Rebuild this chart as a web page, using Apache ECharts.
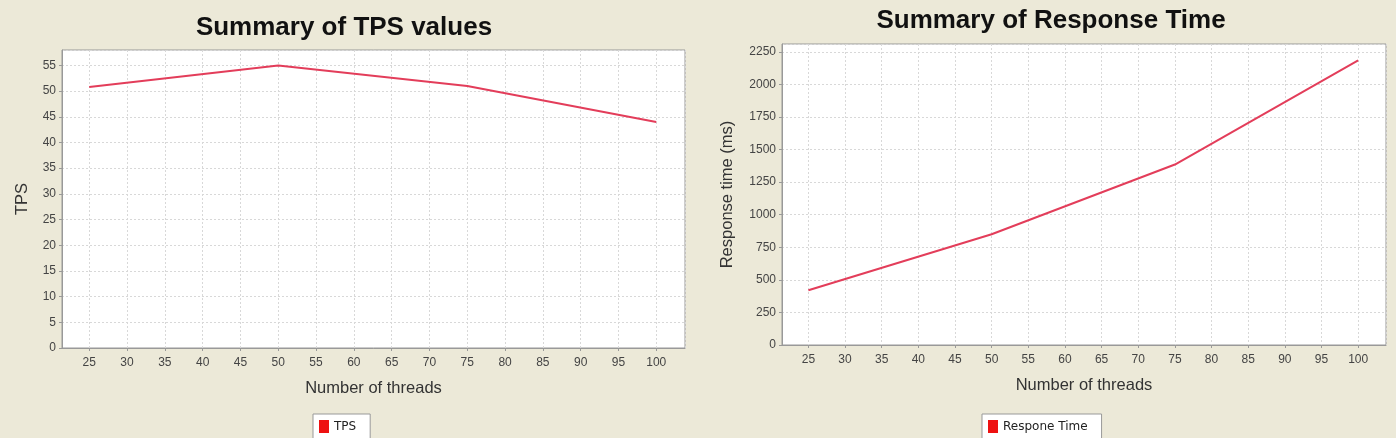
<!DOCTYPE html>
<html>
<head>
<meta charset="utf-8">
<script src="https://cdn.jsdelivr.net/npm/echarts@6/dist/echarts.min.js"></script>
<style>
  html, body { margin: 0; padding: 0; background: #ece9d8; }
  #chart { width: 1396px; height: 438px; }
</style>
</head>
<body>
<div id="chart"></div>
<script>
// thread counts for both runs
const threads = [25, 50, 75, 100]
// TPS per thread count
const tpsValues = [50.8, 55.0, 51.0, 44.0]
// average response time (ms) per thread count
const respValues = [420, 850, 1385, 2185]

const chart = echarts.init(document.getElementById("chart"))

const labelFont = { color: "#444", fontSize: 12, fontFamily: "Liberation Sans" }
const nameFont = { color: "#333", fontSize: 16.5, fontFamily: "Liberation Sans" }
const dashed = { show: true, lineStyle: { color: "#d8d8d8", type: [2, 2], width: 1 } }
const plain = (v) => String(v)

const xAxisFor = (gridIndex) => ({
  type: "value",
  gridIndex,
  min: 21.4,
  max: 103.8,
  minInterval: 5,
  maxInterval: 5,
  name: "Number of threads",
  nameLocation: "middle",
  nameGap: 32,
  nameTextStyle: nameFont,
  axisLine: { lineStyle: { color: "#999" } },
  axisTick: { show: true, length: 3, lineStyle: { color: "#999" } },
  axisLabel: { ...labelFont, margin: 9, showMinLabel: false, showMaxLabel: false, formatter: plain },
  splitLine: dashed
})

const lineSeries = (name, values, idx) => ({
  name,
  type: "line",
  xAxisIndex: idx,
  yAxisIndex: idx,
  data: threads.map((t, i) => [t, values[i]]),
  symbol: "none",
  lineStyle: { color: "#e33d5a", width: 2 },
  itemStyle: { color: "#ee1111" }
})

const legendFor = (name, left) => ({
  data: [name],
  left,
  top: 414,
  orient: "horizontal",
  backgroundColor: "#fff",
  borderColor: "#999",
  borderWidth: 1,
  borderRadius: 0,
  padding: [6, 14, 8, 6],
  icon: "rect",
  itemWidth: 10,
  itemHeight: 13,
  itemGap: 6,
  selectedMode: false,
  textStyle: { color: "#222", fontSize: 12, fontFamily: "DejaVu Sans" }
})

chart.setOption({
  backgroundColor: "#ece9d8",
  animation: false,
  title: [
    {
      text: "Summary of TPS values",
      left: 339,
      top: 10,
      textAlign: "center",
      textStyle: { fontSize: 26, fontWeight: "bold", color: "#111", fontFamily: "Liberation Sans" }
    },
    {
      text: "Summary of Response Time",
      left: 1046,
      top: 3,
      textAlign: "center",
      textStyle: { fontSize: 26, fontWeight: "bold", color: "#111", fontFamily: "Liberation Sans" }
    }
  ],
  legend: [legendFor("TPS", 313), legendFor("Respone Time", 982)],
  grid: [
    { left: 62, top: 50, width: 623, height: 298, show: true, backgroundColor: "#fff", borderColor: "#999", borderWidth: 1 },
    { left: 782, top: 44, width: 604, height: 301, show: true, backgroundColor: "#fff", borderColor: "#999", borderWidth: 1 }
  ],
  xAxis: [xAxisFor(0), xAxisFor(1)],
  yAxis: [
    {
      type: "value",
      gridIndex: 0,
      min: 0,
      max: 58,
      interval: 5,
      name: "TPS",
      nameLocation: "middle",
      nameGap: 31,
      nameTextStyle: nameFont,
      axisLine: { show: true, lineStyle: { color: "#999" } },
      axisTick: { show: true, length: 3, lineStyle: { color: "#999" } },
      axisLabel: { ...labelFont, margin: 6, showMaxLabel: false, formatter: plain },
      splitLine: dashed
    },
    {
      type: "value",
      gridIndex: 1,
      min: 0,
      max: 2310,
      interval: 250,
      name: "Response time (ms)",
      nameLocation: "middle",
      nameGap: 46,
      nameTextStyle: nameFont,
      axisLine: { show: true, lineStyle: { color: "#999" } },
      axisTick: { show: true, length: 3, lineStyle: { color: "#999" } },
      axisLabel: { ...labelFont, margin: 6, showMaxLabel: false, formatter: plain },
      splitLine: dashed
    }
  ],
  series: [
    lineSeries("TPS", tpsValues, 0),
    lineSeries("Respone Time", respValues, 1)
  ]
})
</script>
</body>
</html>
